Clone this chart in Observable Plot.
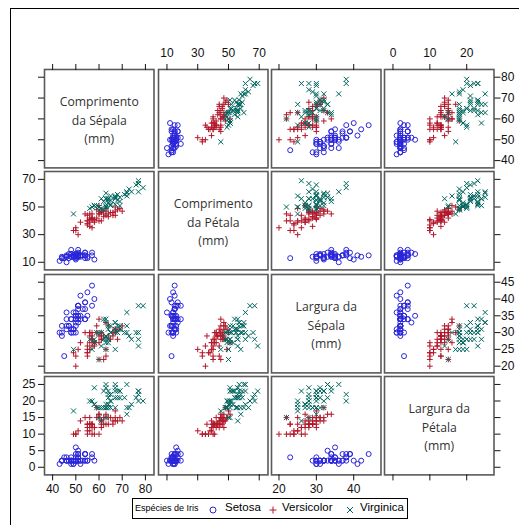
<!DOCTYPE html>
<html><head><meta charset="utf-8">
<script src="https://cdn.jsdelivr.net/npm/d3@7"></script>
<script src="https://cdn.jsdelivr.net/npm/@observablehq/plot@0.6"></script>
<style>
html,body{margin:0;padding:0;background:#fff;}
#chart{position:relative;width:519px;height:525px;overflow:hidden;background:#fff;}
.frame{position:absolute;left:10px;top:8px;width:600px;height:600px;border-left:1px solid #000;border-top:1px solid #000;box-sizing:border-box;}
.panel{position:absolute;}
.panel svg{max-width:none !important;}
.legend{position:absolute;left:132px;top:498px;width:276px;height:21px;border:1px solid #000;box-sizing:border-box;font-family:"Liberation Sans",Arial,sans-serif;color:#000;}
.legend span{position:absolute;white-space:nowrap;}
.legend svg{position:absolute;}
</style>
</head><body>
<div id="chart"><div class="frame"></div></div>
<script>
// ---- Data (Iris, mm) ----
const speciesNames = ["Setosa", "Versicolor", "Virginica"];
const variableLabels = ["Comprimento\nda Sépala\n(mm)", "Comprimento\nda Pétala\n(mm)", "Largura da\nSépala\n(mm)", "Largura da\nPétala\n(mm)"];

const setosaSepalLength = [51,49,47,46,50,54,46,50,44,49,54,48,48,43,58,57,54,51,57,51,54,51,46,51,48,50,50,52,52,47,48,54,52,55,49,50,55,49,44,51,50,45,44,50,51,48,51,46,53,50];
const setosaSepalWidth = [35,30,32,31,36,39,34,34,29,31,37,34,30,30,40,44,39,35,38,38,34,37,36,33,34,30,34,35,34,32,31,34,41,42,31,32,35,36,30,34,35,23,32,35,38,30,38,32,37,33];
const setosaPetalLength = [14,14,13,15,14,17,14,15,14,15,15,16,14,11,12,15,13,14,17,15,17,15,10,17,19,16,16,15,14,16,16,15,15,14,15,12,13,14,13,15,13,13,13,16,19,14,16,14,15,14];
const setosaPetalWidth = [2,2,2,2,2,4,3,2,2,1,2,2,1,1,2,4,4,3,3,3,2,4,2,5,2,2,4,2,2,2,2,4,1,2,2,2,2,1,2,2,3,3,2,6,4,3,2,2,2,2];

const versicolorSepalLength = [70,64,69,55,65,57,63,49,66,52,50,59,60,61,56,67,56,58,62,56,59,61,63,61,64,66,68,67,60,57,55,55,58,60,54,60,67,63,56,55,55,61,58,50,56,57,57,62,51,57];
const versicolorSepalWidth = [32,32,31,23,28,28,33,24,29,27,20,30,22,29,29,31,30,27,22,25,32,28,25,28,29,30,28,30,29,26,24,24,27,27,30,34,31,23,30,25,26,30,26,23,27,30,29,29,25,28];
const versicolorPetalLength = [47,45,49,40,46,45,47,33,46,39,35,42,40,47,36,44,45,41,45,39,48,40,49,47,43,44,48,50,45,35,38,37,39,51,45,45,47,44,41,40,44,46,40,33,42,42,42,43,30,41];
const versicolorPetalWidth = [14,15,15,13,15,13,16,10,13,14,10,15,10,14,13,14,15,10,15,11,18,13,15,12,13,14,14,17,15,10,11,10,12,16,15,16,15,13,13,13,12,14,12,10,13,12,13,13,11,13];

const virginicaSepalLength = [63,58,71,63,65,76,49,73,67,72,65,64,68,57,58,64,65,77,77,60,69,56,77,63,67,72,62,61,64,72,74,79,64,63,61,77,63,64,60,69,67,69,58,68,67,67,63,65,62,59];
const virginicaSepalWidth = [33,27,30,29,30,30,25,29,25,36,32,27,30,25,28,32,30,38,26,22,32,28,28,27,33,32,28,30,28,30,28,38,28,28,26,30,34,31,30,31,31,31,27,32,33,30,25,30,34,30];
const virginicaPetalLength = [60,51,59,56,58,66,45,63,58,61,51,53,55,50,51,53,55,67,69,50,57,49,67,49,57,60,48,49,56,58,61,64,56,51,56,61,56,55,48,54,56,51,51,59,57,52,50,52,54,51];
const virginicaPetalWidth = [25,19,21,18,22,21,17,18,18,25,20,19,21,20,24,23,18,22,23,15,23,20,20,18,21,18,18,18,21,16,19,20,22,15,14,23,24,18,18,21,24,23,19,23,25,23,19,20,23,18];

// Tick values
const colTicks = [[40,50,60,70,80],[10,30,50,70],[20,30,40],[0,10,20]];
const rowTicks = [[40,50,60,70,80],[10,30,50,70],[20,25,30,35,40,45],[0,5,10,15,20,25]];

// ---- Build table ----
const speciesArrays = [
  [setosaSepalLength, setosaPetalLength, setosaSepalWidth, setosaPetalWidth],
  [versicolorSepalLength, versicolorPetalLength, versicolorSepalWidth, versicolorPetalWidth],
  [virginicaSepalLength, virginicaPetalLength, virginicaSepalWidth, virginicaPetalWidth]
];
const rows = [];
speciesArrays.forEach((arrs, s) => {
  arrs[0].forEach((_, k) => rows.push({species: speciesNames[s], v: arrs.map(a => a[k])}));
});

// ---- Layout / style ----
const domains = [[36.5, 83.7], [4.5, 75.7], [18.0, 47.3], [-2.3, 27.4]];
const colors = {Setosa: "#2A25D9", Versicolor: "#B2182B", Virginica: "#01665E"};
const symbols = {Setosa: "circle", Versicolor: "plus", Virginica: "times"};
const radii = {Setosa: 2.5, Versicolor: 2.0, Virginica: 2.4};
const PW = 109.5, PH = 98.4, M = 40;
const colLeft = j => 44.3 + j * 113.2;
const rowTop = i => 69.2 + i * 102.2;

const chart = document.getElementById("chart");
const axisStyle = {tickSize: 6, label: null, color: "#111", fontSize: 12, strokeWidth: 1};

for (let i = 0; i < 4; i++) {
  for (let j = 0; j < 4; j++) {
    const marks = [Plot.frame({stroke: "#5a5a5a", strokeWidth: 1.6})];
    if (i === 0) marks.push(Plot.axisX({...axisStyle, anchor: "top", ticks: colTicks[j], tickPadding: 6, tickFormat: j % 2 === 1 ? d => d : () => ""}));
    if (i === 3) marks.push(Plot.axisX({...axisStyle, anchor: "bottom", ticks: colTicks[j], tickPadding: 4, tickFormat: j % 2 === 0 ? d => d : () => ""}));
    if (j === 0) marks.push(Plot.axisY({...axisStyle, anchor: "left", ticks: rowTicks[i], tickPadding: 3, tickFormat: i % 2 === 1 ? d => d : () => ""}));
    if (j === 3) marks.push(Plot.axisY({...axisStyle, anchor: "right", ticks: rowTicks[i], tickPadding: 1, tickFormat: i % 2 === 0 ? d => d : () => ""}));
    if (i === j) {
      marks.push(Plot.text([variableLabels[i]], {text: d => d, frameAnchor: "middle", fontSize: 12.2, lineHeight: 1.5, fill: "#333", fontFamily: "'Open Sans', sans-serif"}));
    } else {
      for (const sp of speciesNames) {
        marks.push(Plot.dot(rows.filter(r => r.species === sp), {
          x: r => r.v[j], y: r => r.v[i], symbol: symbols[sp], r: radii[sp],
          stroke: colors[sp], fill: "none", strokeWidth: 1
        }));
      }
    }
    const svg = Plot.plot({
      width: PW + 2 * M, height: PH + 2 * M,
      marginLeft: M, marginRight: M, marginTop: M, marginBottom: M,
      x: {domain: domains[j], axis: null},
      y: {domain: domains[i], axis: null},
      style: {background: "transparent", overflow: "visible", maxWidth: "none", fontFamily: "'Liberation Sans', Arial, sans-serif", fontSize: "12px", color: "#000"},
      marks
    });
    const div = document.createElement("div");
    div.className = "panel";
    div.style.left = (colLeft(j) - M) + "px";
    div.style.top = (rowTop(i) - M) + "px";
    div.style.width = (PW + 2 * M) + "px";
    div.style.height = (PH + 2 * M) + "px";
    div.appendChild(svg);
    chart.appendChild(div);
  }
}

// ---- Legend ----
const legend = document.createElement("div");
legend.className = "legend";
legend.innerHTML = `
<span style="left:2px;top:4px;font-size:9px;">Espécies de Iris</span>
<svg width="10" height="10" style="left:75px;top:6px;"><circle cx="5" cy="5" r="3" fill="none" stroke="${colors.Setosa}" stroke-width="1"/></svg>
<span style="left:92px;top:2px;font-size:11.5px;">${speciesNames[0]}</span>
<svg width="10" height="10" style="left:135px;top:6px;"><path d="M1.5,5H8.5M5,1.5V8.5" fill="none" stroke="${colors.Versicolor}" stroke-width="1"/></svg>
<span style="left:149px;top:2px;font-size:11.5px;">${speciesNames[1]}</span>
<svg width="10" height="10" style="left:212px;top:6px;"><path d="M2,2L8,8M2,8L8,2" fill="none" stroke="${colors.Virginica}" stroke-width="1"/></svg>
<span style="left:227px;top:2px;font-size:11.5px;">${speciesNames[2]}</span>`;
chart.appendChild(legend);
</script>
</body></html>
